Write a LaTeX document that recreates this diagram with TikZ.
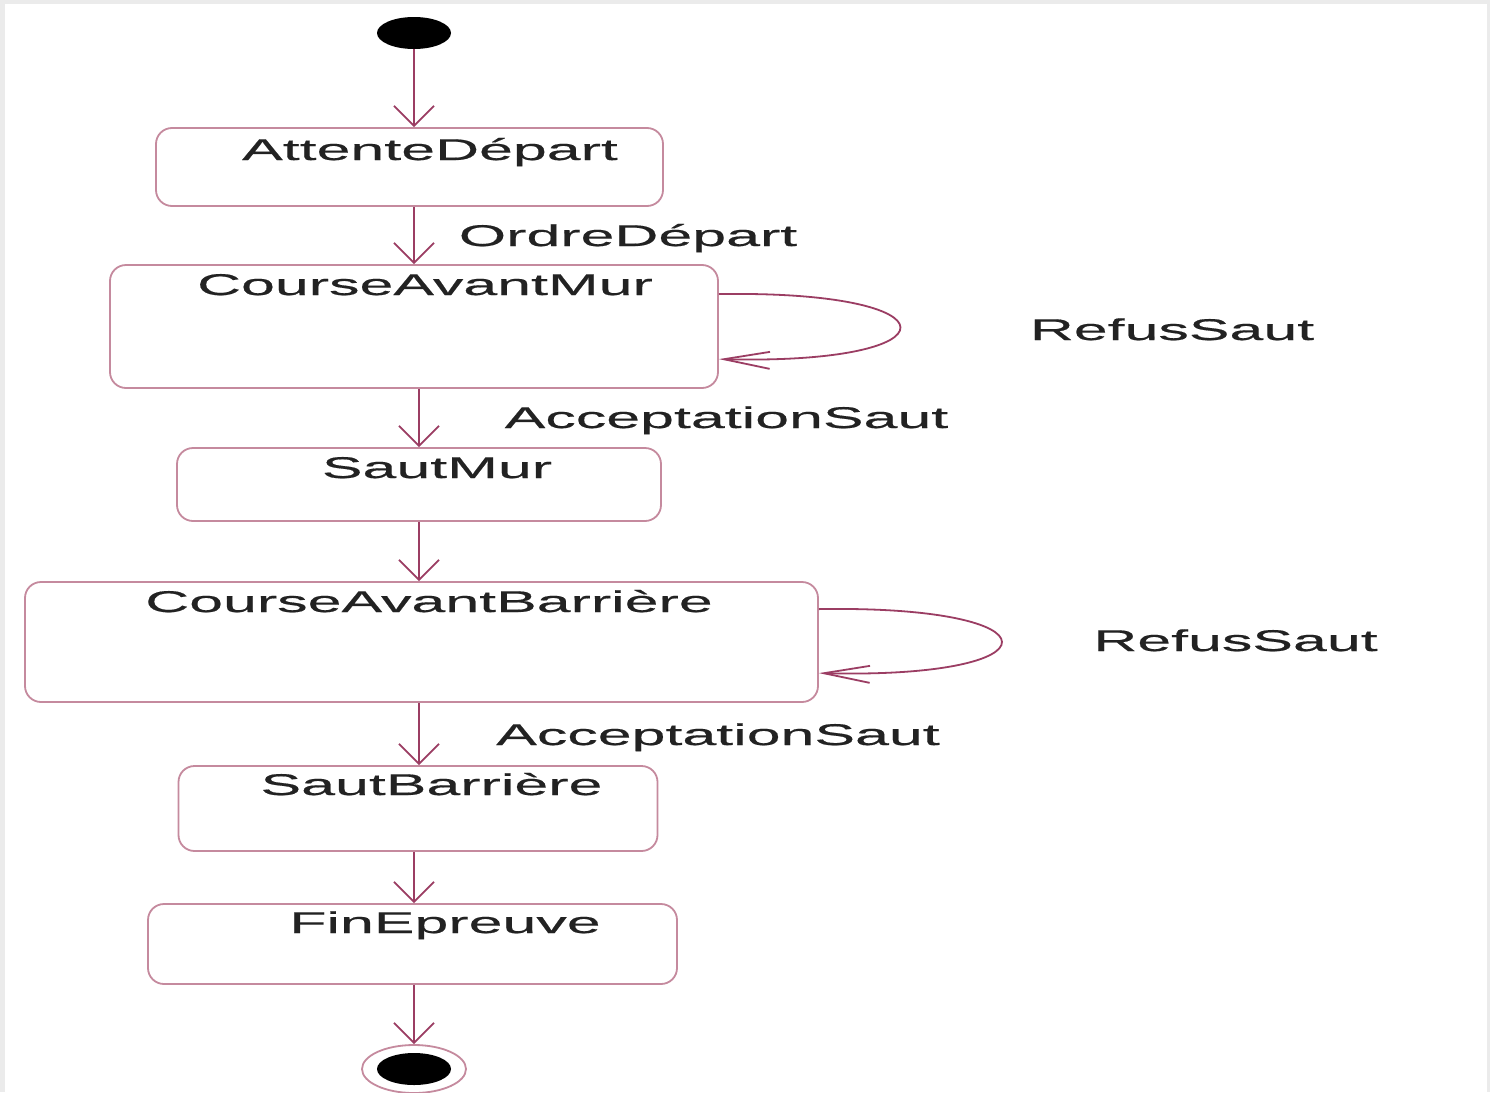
\documentclass[tikz,border=0pt]{standalone}
\usepackage{fontspec}
\setmainfont{Liberation Sans}[FakeStretch=2.03,FakeBold=0.5]
\usetikzlibrary{arrows.meta,shapes.geometric}
\definecolor{edgec}{HTML}{9B3D63}
\definecolor{boxc}{HTML}{C58A9E}
\definecolor{txtc}{HTML}{222222}
\tikzset{
  statebox/.style={draw=boxc, line width=1.8pt, rounded corners=16pt, inner sep=0pt, fill=white},
  lbl/.style={inner sep=0pt, anchor=base, text=txtc, font=\fontsize{30}{36}\selectfont},
  edge/.style={draw=edgec, line width=1.8pt, -{Straight Barb[length=20pt,width=40pt,line width=1.8pt]}},
  loopedge/.style={draw=edgec, line width=1.8pt, -{Straight Barb[length=46pt,width=17pt,line width=1.8pt]}},
  startst/.style={ellipse, fill=black, inner sep=0pt, minimum width=74pt, minimum height=32pt},
}
\begin{document}
\begin{tikzpicture}[x=1pt,y=-1pt]
\fill[black!8] (0,0) rectangle (1490,1092);
\fill[white] (5,4) rectangle (1487,1092);
\useasboundingbox (0,0) rectangle (1490,1092);

% start
\node[startst] (s) at (414,33) {};

% states
\node[statebox, minimum width=507pt, minimum height=78pt] (A) at (409.5,167) {};
\node[lbl] (At) at (430,160) {AttenteDépart};
\node[statebox, minimum width=608pt, minimum height=123pt] (B) at (414,326.5) {};
\node[lbl] (Bt) at (425,295) {CourseAvantMur};
\node[statebox, minimum width=484pt, minimum height=73pt] (C) at (419,484.5) {};
\node[lbl] (Ct) at (437,478) {SautMur};
\node[statebox, minimum width=793pt, minimum height=120pt] (D) at (421.5,642) {};
\node[lbl] (Dt) at (429,612) {CourseAvantBarrière};
\node[statebox, minimum width=479pt, minimum height=85pt] (E) at (418,808.5) {};
\node[lbl] (Et) at (431.5,795) {SautBarrière};
\node[statebox, minimum width=529pt, minimum height=80pt] (F) at (412.5,944) {};
\node[lbl] (Ft) at (445,933) {FinEpreuve};

% final
\node[ellipse, draw=boxc, line width=1.8pt, fill=white, inner sep=0pt, minimum width=104pt, minimum height=48pt] (f) at (414,1069) {};
\node[startst] (fi) at (f.center) {};

% transitions
\draw[edge] (s.south) -- (A.north -| s);
\draw[edge] (A.south -| s) -- (B.north -| s);
\draw[edge] (B.south -| C) -- (C.north);
\draw[edge] (C.south) -- (D.north -| C);
\draw[edge] (D.south -| C) -- (E.north -| C);
\draw[edge] (E.south -| f) -- (F.north -| f);
\draw[edge] (F.south -| f) -- (f.north);

% self loops
\draw[loopedge] ([yshift=-30pt]B.north east) .. controls (960,290) and (960,365) .. ([yshift=-95pt]B.north east);
\draw[loopedge] ([yshift=-28pt]D.north east) .. controls (1062,605) and (1062,679) .. ([yshift=-92pt]D.north east);

% labels
\node[lbl] (l1) at (628,246) {OrdreDépart};
\node[lbl] (l2) at (1172,340) {RefusSaut};
\node[lbl] (l3) at (726.5,428) {AcceptationSaut};
\node[lbl] (l4) at (1235.5,651) {RefusSaut};
\node[lbl] (l5) at (718,745) {AcceptationSaut};
\end{tikzpicture}
\end{document}
